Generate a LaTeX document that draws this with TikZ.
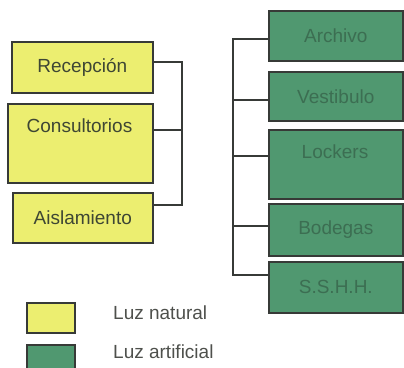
\documentclass[tikz,border=0pt]{standalone}
\usepackage{fontspec}
\setmainfont{Liberation Sans}
\definecolor{yfill}{RGB}{236,238,112}
\definecolor{gfill}{RGB}{80,152,112}
\definecolor{gtext}{RGB}{60,110,82}
\definecolor{ytext}{RGB}{62,70,52}
\definecolor{ltext}{RGB}{78,80,76}
\definecolor{edge}{RGB}{55,58,55}
\begin{document}
\begin{tikzpicture}[x=1bp,y=-1bp,
  every node/.style={font=\fontsize{19bp}{21bp}\selectfont},
  ybox/.style={draw=edge, line width=1.6bp, fill=yfill, anchor=north west, inner sep=0pt, text=ytext},
  gbox/.style={draw=edge, line width=1.6bp, fill=gfill, anchor=north west, inner sep=0pt, text=gtext},
  conn/.style={draw=edge, line width=1.5bp},
  lbl/.style={inner sep=0pt}]
\useasboundingbox (0,0) rectangle (404,368);
% left (yellow) boxes
\node[ybox, minimum width=141bp, minimum height=51bp] (rec) at (11,41) {Recepción};
\node[ybox, minimum width=145bp, minimum height=79bp] (cons) at (7,103) {};
\node[lbl, text=ytext] (ctext) at (79.5,126) {Consultorios};
\node[ybox, minimum width=140bp, minimum height=50bp] (ais) at (12,192) {Aislamiento};
% right (green) boxes
\node[gbox, minimum width=134bp, minimum height=50bp] (arc) at (268,10) {Archivo};
\node[gbox, minimum width=134bp, minimum height=49bp] (ves) at (268,71) {Vestibulo};
\node[gbox, minimum width=134bp, minimum height=69bp] (loc) at (268,129) {};
\node[lbl, text=gtext] (ltxt) at (335,152) {Lockers};
\node[gbox, minimum width=134bp, minimum height=52bp] (bod) at (268,203) {Bodegas};
\node[gbox, minimum width=134bp, minimum height=51bp] (ssh) at (268,261) {S.S.H.H.};
% left connectors
\coordinate (lt) at (182,62);
\coordinate (lm) at (182,130);
\coordinate (lb) at (182,205);
\draw[conn] (rec.east |- lt) -- (lt) -- (lb) -- (ais.east |- lb);
\draw[conn] (cons.east |- lm) -- (lm);
% right connectors
\coordinate (r1) at (233,39);
\coordinate (r2) at (233,100);
\coordinate (r3) at (233,156);
\coordinate (r4) at (233,226);
\coordinate (r5) at (233,275);
\draw[conn] (arc.west |- r1) -- (r1) -- (r5) -- (ssh.west |- r5);
\draw[conn] (r2) -- (ves.west |- r2);
\draw[conn] (r3) -- (loc.west |- r3);
\draw[conn] (r4) -- (bod.west |- r4);
% legend
\node[ybox, minimum width=48bp, minimum height=30bp] (leg1) at (26,302) {};
\node[gbox, minimum width=48bp, minimum height=24bp] (leg2) at (26,344) {};
\node[lbl, anchor=west, text=ltext] (t1) at (113,313) {Luz natural};
\node[lbl, anchor=west, text=ltext] (t2) at (113,352) {Luz artificial};
\end{tikzpicture}
\end{document}
